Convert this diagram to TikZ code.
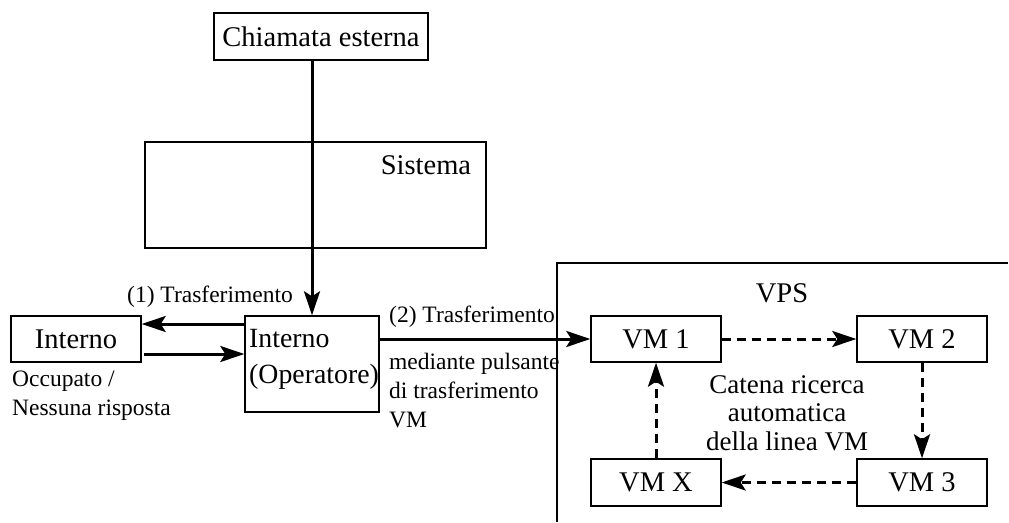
\documentclass[tikz,border=0pt]{standalone}
\usepackage{fontspec}
\setmainfont{Liberation Serif}
\usetikzlibrary{arrows.meta,calc}
\tikzset{
  box/.style={draw, line width=1.4pt, rectangle, inner sep=0pt, font=\fontsize{28.5}{36}\selectfont},
  big/.style={inner sep=0pt, font=\fontsize{28.5}{36}\selectfont},
  small/.style={inner sep=0pt, font=\fontsize{23.5}{29}\selectfont},
  arr/.style={line width=3pt, -{Stealth[length=24pt,width=16pt,inset=5pt]}},
  darr/.style={arr, dash pattern=on 9pt off 6pt},
  frame/.style={line width=1.4pt}
}
\begin{document}
\begin{tikzpicture}[x=1pt,y=-1pt]
\useasboundingbox (0,0) rectangle (1009,522);
% boxes
\node[box, minimum width=214pt, minimum height=47pt] (chiam) at (321,36.5) {Chiamata esterna};
\node[box, minimum width=341pt, minimum height=106pt] (sist) at (315.5,195) {};
\node[big] (sisttxt) at (426,165) {Sistema};
\node[box, minimum width=130pt, minimum height=46pt] (int) at (76,339) {Interno};
\node[box, minimum width=134pt, minimum height=96pt] (op) at (312,364) {};
\node[big, align=left, anchor=west, font=\fontsize{27.8}{36}\selectfont] (optxt) at (249,359) {Interno\\(Operatore)};
% VPS frame
\coordinate (vtl) at (557,263);
\coordinate (vtr) at (1008,263);
\coordinate (vbl) at (557,522);
\draw[frame] (vtr) -- (vtl) -- (vbl);
\node[big] (vps) at (782,293) {VPS};
\node[box, minimum width=130pt, minimum height=46pt] (vm1) at (656,339) {VM 1};
\node[box, minimum width=130pt, minimum height=46pt] (vm2) at (922,339) {VM 2};
\node[box, minimum width=130pt, minimum height=47pt] (vmx) at (656,482.5) {VM X};
\node[box, minimum width=130pt, minimum height=47pt] (vm3) at (922,482.5) {VM 3};
\node[inner sep=0pt, align=center, font=\fontsize{27}{28.5}\selectfont] (cat) at (787,413) {Catena ricerca\\automatica\\della linea VM};
% connectors
\draw[arr] (chiam.south -| op.north) -- (op.north);
\draw[arr] (op.west |- 0,324) -- (int.east |- 0,324);
\draw[arr] ($(int.east |- 0,354)+(2,0)$) -- (op.west |- 0,354);
\draw[arr] (op.east |- vm1.west) -- (vm1.west);
\draw[darr] (vm1.east) -- (vm2.west);
\draw[darr] (vm2.south) -- (vm3.north);
\draw[darr] (vm3.west) -- (vmx.east);
\draw[darr] (vmx.north) -- (vm1.south);
% labels
\node[small] (l1) at (210,297) {(1) Trasferimento};
\node[small, anchor=north west, align=left] (occ) at (12,371) {Occupato /\\Nessuna risposta};
\node[small, anchor=west] (l2) at (389,317) {(2) Trasferimento};
\node[small, anchor=north west, align=left] (med) at (389,353) {mediante pulsante\\di trasferimento\\VM};
\end{tikzpicture}
\end{document}
